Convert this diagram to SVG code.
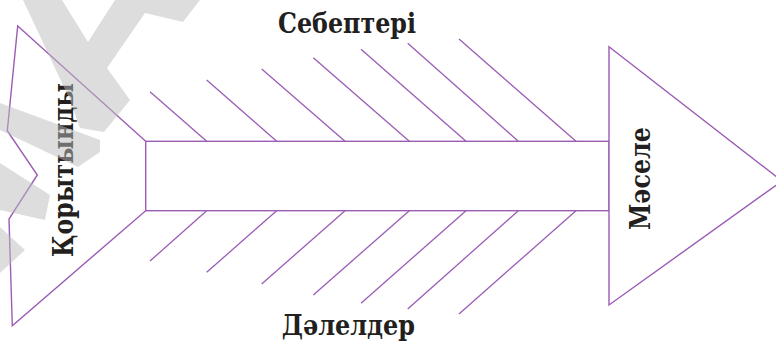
<svg xmlns="http://www.w3.org/2000/svg" width="776" height="342" viewBox="0 0 776 342">
  <style>
    .ln { fill: none; stroke: #9b5cb4; stroke-width: 1.3; }
    .shape { fill: #ffffff; stroke: #9b5cb4; stroke-width: 1.4; }
    .lbl { font-family: "DejaVu Serif", "Liberation Serif", serif; font-weight: bold; font-size: 28px; fill: #231f20; }
    .wm { fill: #bbbbbb; fill-opacity: 0.5; }
  </style>
  <rect width="776" height="342" fill="#ffffff"/>

  <g id="connectors">
    <g id="causes">
      <line class="ln" x1="150" y1="91.7" x2="206.7" y2="141.3"/>
      <line class="ln" x1="206.7" y1="80" x2="276.7" y2="141.3"/>
      <line class="ln" x1="261.7" y1="69" x2="345" y2="141.3"/>
      <line class="ln" x1="313.3" y1="57.7" x2="409.3" y2="141.3"/>
      <line class="ln" x1="361" y1="49.3" x2="466" y2="141.3"/>
      <line class="ln" x1="407.7" y1="43.3" x2="518.3" y2="141.3"/>
      <line class="ln" x1="459" y1="39" x2="576" y2="141.3"/>
    </g>
    <g id="evidence">
      <line class="ln" x1="206.7" y1="210.7" x2="150" y2="261"/>
      <line class="ln" x1="276.7" y1="210.7" x2="206.7" y2="272.3"/>
      <line class="ln" x1="345" y1="210.7" x2="261.7" y2="284"/>
      <line class="ln" x1="409.3" y1="210.7" x2="313.3" y2="295"/>
      <line class="ln" x1="466" y1="210.7" x2="361" y2="303.3"/>
      <line class="ln" x1="518.3" y1="210.7" x2="407.7" y2="309"/>
      <line class="ln" x1="576" y1="210.7" x2="459" y2="314"/>
    </g>
  </g>

  <g id="tail">
    <polygon class="shape" points="17.7,26 145.7,141.3 145.7,210.7 12.3,325.7 9,219 37.3,175 7.3,130.7"/>
    <text class="lbl" transform="translate(73,257) rotate(-90)" textLength="174" lengthAdjust="spacingAndGlyphs">Қорытынды</text>
  </g>

  <g id="spine">
    <rect class="shape" x="145.7" y="141.3" width="463.3" height="69.4"/>
  </g>

  <g id="head">
    <polygon class="shape" points="609,46.7 782,181 609,305"/>
    <text class="lbl" transform="translate(650,230) rotate(-90)" textLength="103" lengthAdjust="spacingAndGlyphs">Мәселе</text>
  </g>

  <g id="label-causes">
    <text class="lbl" x="278" y="33.3" textLength="138" lengthAdjust="spacingAndGlyphs">Себептері</text>
  </g>

  <g id="label-evidence">
    <text class="lbl" x="281.7" y="335" textLength="133.3" lengthAdjust="spacingAndGlyphs">Дәлелдер</text>
  </g>

  <g id="watermark">
    <polygon class="wm" points="23,0 62,0 88,42 115,0 200,0 183,22 145,13 107,68 130,100 104,132 80,128 70,100"/>
    <polygon class="wm" points="0,103 100,140 100,152 78,167 0,130"/>
    <polygon class="wm" points="0,163 50,195 45,220 0,210"/>
    <polygon class="wm" points="0,227 25,250 0,273"/>
  </g>
</svg>
